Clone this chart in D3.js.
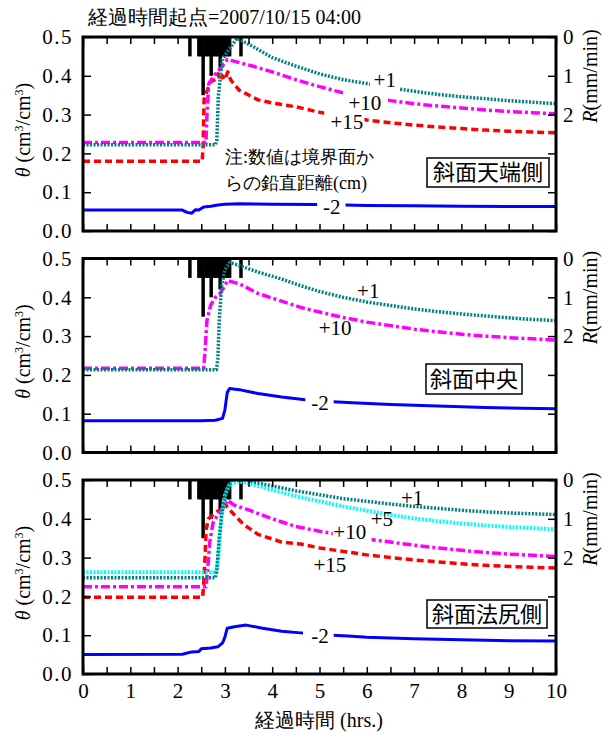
<!DOCTYPE html>
<html>
<head>
<meta charset="utf-8">
<script src="https://cdn.jsdelivr.net/npm/d3@7/dist/d3.min.js"></script>
<style>
body{margin:0;background:#fff;}
</style>
</head>
<body>
<div class="main"></div>
<script>
// ---- data (t in hours, theta in cm3/cm3) ----
var xTicks = [0,1,2,3,4,5,6,7,8,9,10];
var yTicks = [0,0.1,0.2,0.3,0.4,0.5];
var rTicks = [0,1,2];
var panelNames = ["斜面天端側","斜面中央","斜面法尻側"];

// rainfall R (mm/min)
var rainT = [2.26,2.45,2.5,2.54,2.6,2.65,2.71,2.75,2.8,2.85,2.9,2.95,3.0,3.05,3.1,3.34];
var rainR = [0.5,0.5,0.5,1.5,0.5,0.5,1.0,0.5,0.5,0.5,0.8,0.5,0.5,0.5,0.5,0.5];

// top panel
var topP1 = [[0,0.222],[2.8,0.222],[2.83,0.235],[2.86,0.345],[2.94,0.44],[3.04,0.46],[3.26,0.497],[3.6,0.475],[4.0,0.447],[4.5,0.425],[5.0,0.405],[5.5,0.39],[6.0,0.38],[6.5,0.369],[7,0.36],[7.5,0.352],[8,0.346],[8.5,0.341],[9,0.336],[9.5,0.332],[10,0.328]];
var topP10 = [[0,0.228],[2.6,0.228],[2.62,0.3],[2.66,0.38],[2.8,0.405],[2.95,0.425],[3.05,0.442],[3.5,0.428],[4.0,0.41],[4.5,0.39],[5.0,0.372],[5.5,0.356],[6.0,0.345],[6.5,0.336],[7,0.328],[7.5,0.322],[8,0.317],[8.5,0.312],[9,0.308],[9.5,0.305],[10,0.302]];
var topP15 = [[0,0.18],[2.52,0.18],[2.54,0.22],[2.56,0.34],[2.62,0.36],[2.7,0.385],[2.8,0.39],[2.85,0.405],[2.9,0.388],[2.95,0.4],[3.0,0.39],[3.06,0.41],[3.12,0.39],[3.3,0.363],[3.7,0.338],[4.0,0.33],[4.5,0.32],[5.0,0.306],[5.5,0.295],[6.0,0.286],[6.5,0.279],[7,0.273],[7.5,0.268],[8,0.264],[8.5,0.26],[9,0.257],[9.5,0.255],[10,0.253]];
var topM2 = [[0,0.054],[2.1,0.054],[2.2,0.048],[2.3,0.046],[2.38,0.055],[2.45,0.054],[2.55,0.062],[2.7,0.064],[2.85,0.067],[3.0,0.069],[3.3,0.07],[4,0.069],[5,0.068],[6,0.066],[7,0.065],[8,0.064],[9,0.063],[10,0.063]];

// middle panel
var midP1 = [[0,0.213],[2.82,0.213],[2.85,0.24],[2.88,0.34],[2.93,0.43],[3.0,0.47],[3.1,0.49],[3.3,0.482],[3.7,0.465],[4.2,0.447],[4.6,0.43],[5.0,0.415],[5.5,0.4],[6.0,0.388],[6.5,0.379],[7,0.37],[7.5,0.363],[8,0.357],[8.5,0.352],[9,0.347],[9.5,0.343],[10,0.34]];
var midP10 = [[0,0.217],[2.55,0.217],[2.58,0.26],[2.62,0.34],[2.7,0.38],[2.8,0.4],[2.9,0.41],[3.0,0.43],[3.05,0.443],[3.3,0.435],[3.7,0.41],[4.2,0.39],[4.6,0.374],[5.0,0.362],[5.5,0.348],[6,0.336],[6.5,0.327],[7,0.318],[7.5,0.311],[8,0.305],[8.5,0.3],[9,0.296],[9.5,0.293],[10,0.29]];
var midM2 = [[0,0.082],[2.5,0.082],[2.8,0.083],[2.95,0.088],[3.0,0.11],[3.05,0.155],[3.1,0.165],[3.3,0.162],[3.7,0.152],[4.2,0.143],[4.7,0.136],[5.2,0.131],[5.7,0.128],[6.5,0.124],[7.5,0.12],[8.5,0.116],[9.3,0.114],[10,0.113]];

// bottom panel
var botP1 = [[0,0.248],[2.8,0.248],[2.83,0.27],[2.88,0.35],[2.95,0.43],[3.05,0.48],[3.15,0.5],[3.4,0.505],[3.6,0.495],[4.0,0.485],[4.5,0.472],[5.0,0.462],[5.5,0.452],[6,0.445],[6.5,0.438],[7,0.432],[7.5,0.427],[8,0.422],[8.5,0.418],[9,0.415],[9.5,0.413],[10,0.411]];
var botP5 = [[0,0.262],[2.82,0.262],[2.86,0.3],[2.92,0.4],[3.0,0.46],[3.1,0.49],[3.3,0.497],[3.6,0.488],[4.0,0.475],[4.5,0.458],[5.0,0.445],[5.5,0.432],[6,0.421],[6.5,0.41],[7,0.401],[7.5,0.394],[8,0.388],[8.5,0.383],[9,0.379],[9.5,0.376],[10,0.373]];
var botP10 = [[0,0.225],[2.6,0.225],[2.63,0.26],[2.68,0.34],[2.75,0.39],[2.85,0.41],[2.95,0.425],[3.05,0.448],[3.2,0.435],[3.5,0.423],[4.0,0.4],[4.5,0.38],[5.0,0.368],[5.5,0.358],[6.0,0.348],[6.5,0.34],[7,0.332],[7.5,0.325],[8,0.319],[8.5,0.313],[9,0.309],[9.5,0.306],[10,0.303]];
var botP15 = [[0,0.198],[2.53,0.198],[2.55,0.23],[2.58,0.3],[2.6,0.37],[2.65,0.4],[2.75,0.41],[2.85,0.42],[2.95,0.425],[3.0,0.44],[3.05,0.43],[3.2,0.41],[3.4,0.385],[3.7,0.36],[4.2,0.34],[4.6,0.335],[5.0,0.325],[5.5,0.316],[6,0.307],[6.5,0.3],[7,0.294],[7.5,0.289],[8,0.284],[8.5,0.28],[9,0.277],[9.5,0.275],[10,0.273]];
var botM2 = [[0,0.05],[2.1,0.051],[2.3,0.057],[2.45,0.058],[2.5,0.065],[2.7,0.067],[2.85,0.07],[2.95,0.08],[3.0,0.095],[3.05,0.118],[3.2,0.122],[3.45,0.126],[3.8,0.118],[4.2,0.11],[4.6,0.106],[5.2,0.1],[5.6,0.098],[6,0.095],[7,0.091],[8,0.088],[9,0.086],[10,0.085]];

// ---- styles per depth ----
var styles = {
  "+1":  {color:"#008080", width:3.5, dash:"2,1.5"},
  "+5":  {color:"#00ffff", width:4,   dash:"2,1.5"},
  "+10": {color:"#ff00ff", width:3.5, dash:"9,3,3,3"},
  "+15": {color:"#ff0000", width:3.5, dash:"7,4"},
  "-2":  {color:"#0000ff", width:3,   dash:null}
};

// layout: label position (t,v) and gap in the line around it
var panels = [
  {top:37, box:[427,158,122,29], series:[
    {name:"+15", data:topP15, lab:[5.58,0.281], gap:[5.1,5.95]},
    {name:"+10", data:topP10, lab:[5.96,0.332], gap:[5.5,6.45]},
    {name:"+1",  data:topP1,  lab:[6.38,0.389], gap:[6.07,6.7]},
    {name:"-2",  data:topM2,  lab:[5.26,0.062], gap:[4.95,5.55]}]},
  {top:258.5, box:[426,364,96,30], series:[
    {name:"+10", data:midP10, lab:[5.33,0.322]},
    {name:"+1",  data:midP1,  lab:[6.03,0.418]},
    {name:"-2",  data:midM2,  lab:[5.01,0.129], gap:[4.7,5.3]}]},
  {top:480, box:[427,600,120,28], series:[
    {name:"+15", data:botP15, lab:[5.22,0.281]},
    {name:"+10", data:botP10, lab:[5.64,0.366], gap:[5.28,6.1]},
    {name:"+5",  data:botP5,  lab:[6.32,0.40]},
    {name:"+1",  data:botP1,  lab:[6.96,0.454]},
    {name:"-2",  data:botM2,  lab:[5.01,0.098], gap:[4.65,5.3]}]}
];

const W = 606, H = 733, PH = 194;
const left = 83, right = 556;
const SERIF = "Liberation Serif";
const JP = "Noto Sans CJK JP";

var svg = d3.select(".main").append("svg")
    .attr("width", W)
    .attr("height", H);
var defs = svg.append("defs");

var x = d3.scaleLinear().domain([0,10]).range([left,right]);
var rain = rainT.map(function(t,i){ return {t:t, r:rainR[i]}; });

//title
svg.append("text")
    .attr("x", 88).attr("y", 24)
    .attr("font-family", SERIF)
    .attr("font-size", 20)
    .text("経過時間起点=2007/10/15 04:00");

panels.forEach(function(p,pi){
    var top = p.top, bot = top + PH;
    var y = d3.scaleLinear().domain([0,0.5]).range([bot,top]);
    var r = d3.scaleLinear().domain([0,5]).range([top,bot]);
    var g = svg.append("g");

    defs.append("clipPath").attr("id","clip"+pi)
        .append("rect").attr("x",left).attr("y",top).attr("width",right-left).attr("height",PH);

    // rain bars hanging from top
    g.append("g").attr("clip-path","url(#clip"+pi+")")
        .selectAll("rect").data(rain).enter().append("rect")
        .attr("x", function(d){ return x(d.t - 0.037); })
        .attr("width", function(d){ return x(0.074) - x(0); })
        .attr("y", top)
        .attr("height", function(d){ return r(d.r) - top; })
        .style("fill","black");

    // lines
    var line = d3.line().x(function(d){ return x(d[0]); }).y(function(d){ return y(d[1]); });
    p.series.forEach(function(s,si){
        var st = styles[s.name];
        var parts = [[0,10]];
        if (s.gap) parts = [[0,s.gap[0]],[s.gap[1],10]];
        parts.forEach(function(pt,k){
            var id = "c"+pi+"_"+si+"_"+k;
            defs.append("clipPath").attr("id",id)
                .append("rect").attr("x",x(pt[0])).attr("y",top)
                .attr("width",x(pt[1])-x(pt[0])).attr("height",PH);
            g.append("path")
                .datum(s.data)
                .attr("clip-path","url(#"+id+")")
                .attr("d", line)
                .style("fill","none")
                .style("stroke", st.color)
                .style("stroke-width", st.width)
                .style("stroke-dasharray", st.dash)
                .style("stroke-linejoin","round");
        });
        g.append("text")
            .attr("x", x(s.lab[0])).attr("y", y(s.lab[1]))
            .attr("text-anchor","middle")
            .attr("dy","0.35em")
            .attr("font-family", SERIF)
            .attr("font-size", 21)
            .text(s.name);
    });

    // axes (inward ticks)
    g.append("g").attr("transform","translate(0,"+bot+")")
        .call(d3.axisBottom(x).tickValues(d3.range(0,10.01,0.5)).tickSize(-7).tickPadding(9)
            .tickFormat(function(d){ return (pi==2 && xTicks.indexOf(d)>=0) ? d : ""; }));
    g.append("g").attr("transform","translate(0,"+top+")")
        .call(d3.axisTop(x).tickValues(d3.range(0,10.01,0.5)).tickSize(-7).tickFormat(""));
    var ay = g.append("g").attr("transform","translate("+left+",0)")
        .call(d3.axisLeft(y).tickValues(yTicks).tickSize(-8).tickPadding(10).tickFormat(d3.format(".1f")));
    g.append("g").attr("transform","translate("+right+",0)")
        .call(d3.axisRight(r).tickValues([0,1,2,3,4,5]).tickSize(-8).tickPadding(7)
            .tickFormat(function(d){ return rTicks.indexOf(d)>=0 ? d : ""; }));
    g.selectAll(".domain").remove();
    g.selectAll(".tick line").style("stroke","black").style("stroke-width",1.5);
    g.selectAll(".tick text")
        .attr("font-family", SERIF)
        .attr("font-size", 21);
    ay.selectAll(".tick text").attr("letter-spacing", 1.5);

    // frame
    g.append("rect")
        .attr("x",left).attr("y",top).attr("width",right-left).attr("height",PH)
        .style("fill","none").style("stroke","black").style("stroke-width",3);

    // panel name box
    g.append("rect")
        .attr("x",p.box[0]).attr("y",p.box[1]).attr("width",p.box[2]).attr("height",p.box[3])
        .style("fill","white").style("stroke","black").style("stroke-width",1.5);
    g.append("text")
        .attr("x",p.box[0]+p.box[2]/2).attr("y",p.box[1]+p.box[3]/2)
        .attr("dy","0.36em").attr("text-anchor","middle")
        .attr("font-family", JP)
        .attr("font-size", 22)
        .text(panelNames[pi]);

    // y label theta
    var tl = g.append("text")
        .attr("transform","translate(30,"+(top+PH/2-4)+") rotate(-90)")
        .attr("text-anchor","middle")
        .attr("font-family", SERIF)
        .attr("font-size", 20);
    tl.append("tspan").attr("font-style","italic").text("θ");
    tl.append("tspan").text(" (cm");
    tl.append("tspan").attr("baseline-shift","super").attr("font-size",12).text("3");
    tl.append("tspan").text("/cm");
    tl.append("tspan").attr("baseline-shift","super").attr("font-size",12).text("3");
    tl.append("tspan").text(")");

    // right label R
    var rl = g.append("text")
        .attr("transform","translate(597,"+(top+39)+") rotate(-90)")
        .attr("text-anchor","middle")
        .attr("font-family", SERIF)
        .attr("font-size", 20);
    rl.append("tspan").attr("font-style","italic").text("R");
    rl.append("tspan").text("(mm/min)");
});

// note in top panel
svg.append("text")
    .attr("x",225).attr("y",163)
    .attr("font-family", SERIF)
    .attr("font-size", 18)
    .text("注:数値は境界面か");
svg.append("text")
    .attr("x",225).attr("y",189)
    .attr("font-family", SERIF)
    .attr("font-size", 18)
    .text("らの鉛直距離(cm)");

// x label
svg.append("text")
    .attr("x",319).attr("y",727)
    .attr("text-anchor","middle")
    .attr("font-family", SERIF)
    .attr("font-size", 20)
    .text("経過時間 (hrs.)");
</script>
</body>
</html>
